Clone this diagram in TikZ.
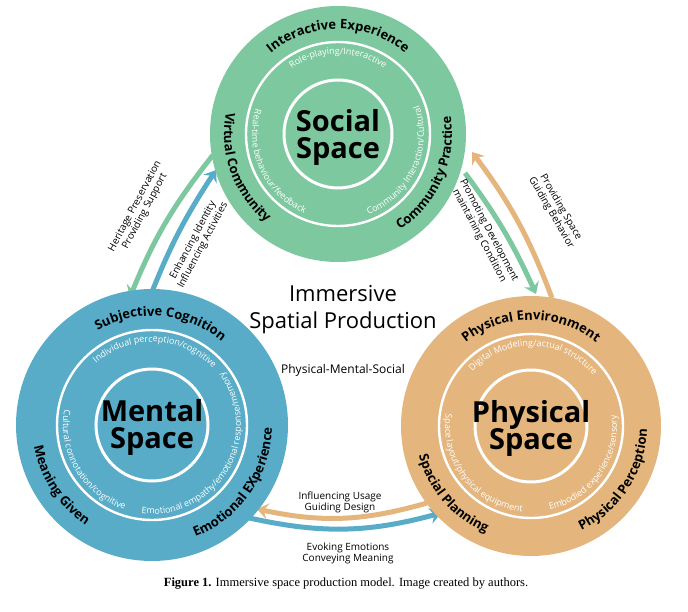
\documentclass[tikz,border=0pt]{standalone}
\usepackage{fontspec}
\setmainfont{Open Sans}
\newfontfamily\capfont{Liberation Serif}
\usetikzlibrary{decorations.text,arrows.meta}
\definecolor{cgreen}{RGB}{126,200,160}
\definecolor{cblue}{RGB}{88,172,200}
\definecolor{corange}{RGB}{228,182,126}
\newcommand{\arclab}[7]{%
  \path[decorate,decoration={text along path,text align=center,text={|#6|#7}}]
    (#1,#2) ++(#4:#3) arc[start angle=#4,end angle=#5,radius=#3];}
\tikzset{
  big/.style={circle,minimum size=#1,inner sep=0pt},
  ring/.style={draw=white,line width=2.4pt},
  flow/.style={line width=5pt,-{Stealth[length=11pt,width=16pt,inset=4pt]}},
  alab/.style={align=center,font=\fontsize{10}{11}\selectfont,inner sep=0pt},
  title/.style={font=\bfseries\fontsize{29}{31}\selectfont,align=center}
}
\begin{document}
\begin{tikzpicture}[x=1pt,y=1pt]
\useasboundingbox (0,0) rectangle (688,-612);
% connectors
\coordinate (g1) at (213,-155); \coordinate (g2) at (130,-297);
\coordinate (b1) at (148,-302); \coordinate (b2) at (216,-170);
\coordinate (o1) at (552,-298); \coordinate (o2) at (472,-152);
\coordinate (h1) at (465,-173); \coordinate (h2) at (536,-294);
\coordinate (p1) at (427,-503); \coordinate (p2) at (257,-509);
\coordinate (q1) at (245,-517); \coordinate (q2) at (441,-513);
\draw[flow,cgreen] (g1) to[bend right=8] (g2);
\draw[flow,cblue] (b1) to[bend left=6] (b2);
\draw[flow,corange] (o1) to[bend right=8] (o2);
\draw[flow,cgreen] (h1) to[bend left=6] (h2);
\draw[flow,corange] (p1) to[bend left=14] (p2);
\draw[flow,cblue] (q1) to[bend right=14] (q2);
% circles
\node[big=256pt,fill=cgreen] (soc) at (338,-134) {};
\draw[ring] (soc.center) circle[radius=92];
\draw[ring,line width=3pt] (soc.center) circle[radius=54];
\node[title] at (338,-137) {Social\\[-4pt]Space};
\node[big=272pt,fill=cblue] (men) at (152,-425) {};
\draw[ring] (men.center) circle[radius=95];
\draw[ring,line width=3pt] (men.center) circle[radius=56];
\node[title] at (152,-427) {Mental\\[-4pt]Space};
\node[big=260pt,fill=corange] (phy) at (531,-426) {};
\draw[ring] (phy.center) circle[radius=92];
\draw[ring,line width=3pt] (phy.center) circle[radius=56];
\node[title] at (531,-428) {Physical\\[-4pt]Space};
% outer arc labels
\def\ob{\bfseries\fontsize{13}{13}\selectfont}
\def\ib{\color{white}\fontsize{9}{9}\selectfont}
\arclab{338}{-134}{105}{135}{45}{\ob}{Interactive Experience}
\arclab{338}{-134}{114}{150}{250}{\ob}{Virtual Community}
\arclab{338}{-134}{114}{286}{386}{\ob}{Community Practice}
\arclab{338}{-134}{80}{125}{55}{\ib}{Role-playing/Interactive}
\arclab{338}{-134}{86}{150}{260}{\ib}{Real-time behaviour/feedback}
\arclab{338}{-134}{86}{280}{390}{\ib}{Community Interaction/Cultural}
\arclab{152}{-425}{109}{130}{40}{\ob}{Subjective Cognition}
\arclab{152}{-425}{120}{185}{242}{\ob}{Meaning Given}
\arclab{152}{-425}{120}{280}{370}{\ob}{Emotional EXperience}
\arclab{152}{-425}{83}{135}{40}{\ib}{Individual perception/cognitive}
\arclab{152}{-425}{89}{160}{262}{\ib}{Cultural connotation/cognitive}
\arclab{152}{-425}{89}{262}{398}{\ib}{Emotional empathy/emotional response/memory}
\arclab{531}{-426}{106}{138}{42}{\ob}{Physical Environment}
\arclab{531}{-426}{116}{180}{262}{\ob}{Spacial Planning}
\arclab{531}{-426}{116}{282}{372}{\ob}{Physical Perception}
\arclab{531}{-426}{80}{140}{36}{\ib}{Digital Modeling/actual structure}
\arclab{531}{-426}{86}{160}{276}{\ib}{Space layout/physical equipment}
\arclab{531}{-426}{86}{275}{375}{\ib}{Embodied experience/sensory}
% arrow labels
\node[alab,rotate=62] (l1) at (140,-209) {Heritage Preservation\\Providing Support};
\node[alab,rotate=62] (l2) at (198,-243) {Enhancing Identity\\Influencing Activities};
\node[alab,rotate=-60] (l3) at (556,-210) {Providing Space\\Guiding Behavior};
\node[alab,rotate=-62] (l4) at (484,-233) {Promoting Development\\maintaining Condition};
\node[alab] (l5) at (340,-502) {Influencing Usage\\Guiding Design};
\node[alab] (l6) at (348,-553) {Evoking Emotions\\Conveying Meaning};
% centre texts
\node[align=center,font=\fontsize{22}{27}\selectfont] (ttl) at (343,-310) {Immersive\\Spatial Production};
\node[font=\fontsize{12}{12}\selectfont] (sub) at (343,-370) {Physical-Mental-Social};
\node[font=\capfont\fontsize{12.5}{12.5}\selectfont] (cap) at (346,-584) {\textbf{Figure 1.} Immersive space production model. Image created by authors.};
\end{tikzpicture}
\end{document}
